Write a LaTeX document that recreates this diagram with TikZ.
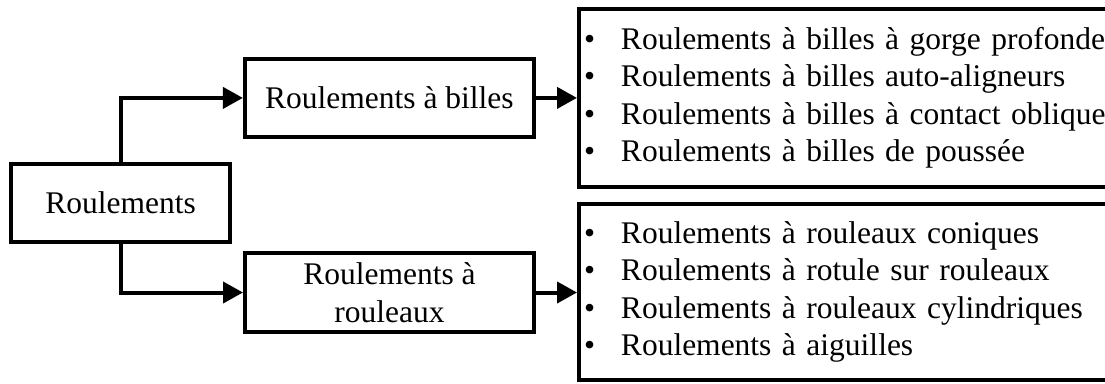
\documentclass[tikz,border=0pt]{standalone}
\usepackage{fontspec}
\setmainfont{Liberation Serif}
\usetikzlibrary{arrows.meta,positioning,calc}

\tikzset{
  box/.style={draw, line width=4pt, rectangle, inner sep=0pt, align=center,
    font=\fontsize{31.5}{37.5}\selectfont},
  listbox/.style={draw, line width=4pt, rectangle, inner xsep=5pt, inner ysep=0pt,
    align=left, anchor=west, text width=533pt,
    font=\fontsize{31.5}{37.5}\selectfont},
  link/.style={line width=4pt, line join=miter,
    -{Triangle[length=20pt,width=21pt]}},
}
\newcommand{\itm}[1]{\makebox[37pt][l]{\textbullet}#1}

\begin{document}
\begin{tikzpicture}[x=1pt,y=-1pt]
  \useasboundingbox (0,0) rectangle (1105,383);
  \clip (0,0) rectangle (1105,383);

  % root and the two families
  \node[box, minimum width=219pt, minimum height=78pt] (root) at (120.7,202.5) {Roulements};
  \node[box, minimum width=289pt, minimum height=78pt] (billes) at (389.4,97.9) {Roulements à billes};
  \node[box, minimum width=289pt, minimum height=79pt] (rouleaux) at (389.5,292.5) {Roulements à\\rouleaux};

  % lists of bearing types
  \node[listbox, minimum height=178.5pt] (lbilles) at (577,97.75) {%
    \itm{Roulements à billes à gorge profonde}\\
    \itm{Roulements à billes auto-aligneurs}\\
    \itm{Roulements à billes à contact oblique}\\
    \itm{Roulements à billes de poussée}};
  \node[listbox, minimum height=176pt] (lrouleaux) at (577,292) {%
    \itm{Roulements à rouleaux coniques}\\
    \itm{Roulements à rotule sur rouleaux}\\
    \itm{Roulements à rouleaux cylindriques}\\
    \itm{Roulements à aiguilles}};

  % connectors
  \draw[link] (root.north) |- (billes.west);
  \draw[link] (root.south) |- (rouleaux.west);
  \draw[link] (billes.east) -- (billes.east -| lbilles.west);
  \draw[link] (rouleaux.east) -- (rouleaux.east -| lrouleaux.west);
\end{tikzpicture}
\end{document}
